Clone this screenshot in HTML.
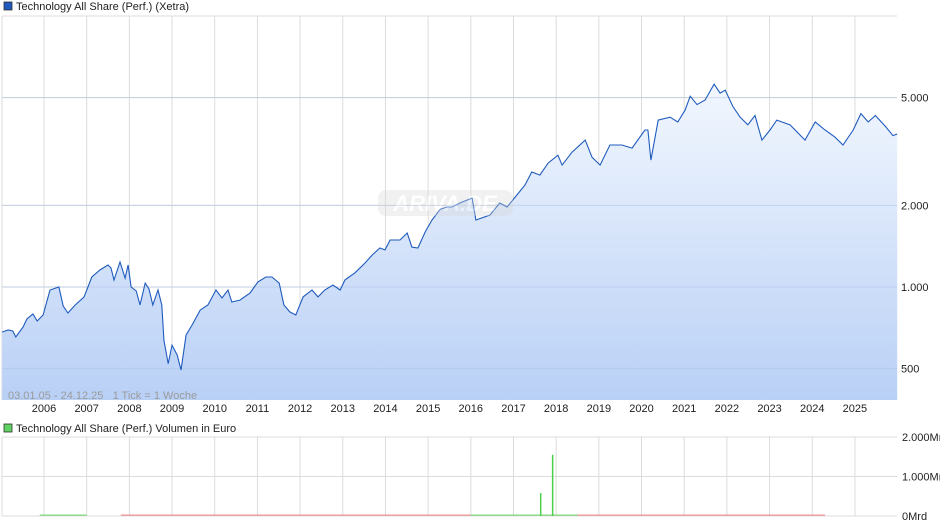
<!DOCTYPE html>
<html><head><meta charset="utf-8"><style>
body{margin:0;background:#fff;}
svg{display:block;font-family:"Liberation Sans",sans-serif;}
</style></head><body>
<svg id="c" width="940" height="526" viewBox="0 0 940 526">
<defs>
<linearGradient id="fg" x1="0" y1="0" x2="0" y2="1">
<stop offset="0" stop-color="#f2f7fe"/><stop offset="1" stop-color="#b9d0f6"/>
</linearGradient>
</defs>
<g id="grid"></g>
<g id="area"></g>
<g id="vol"></g>
<g id="axes"></g>
<g opacity="0.35">
<rect x="378" y="190" width="135" height="26" rx="8" fill="#d8d8d8"/>
<text x="445" y="211" font-size="22" font-style="italic" font-weight="bold" fill="#fff" text-anchor="middle">ARIVA.DE</text>
</g>
<rect x="4" y="2" width="8" height="8" fill="#1f5bbd" stroke="#333" stroke-width="0.8"/>
<text x="16" y="10" font-size="11" fill="#222">Technology All Share (Perf.) (Xetra)</text>
<rect x="4" y="424" width="8" height="8" fill="#5fd35f" stroke="#333" stroke-width="0.8"/>
<text x="16" y="432" font-size="11" fill="#222">Technology All Share (Perf.) Volumen in Euro</text>
<text x="8" y="399" font-size="11" fill="#9a9a9a" style="white-space:pre">03.01.05 - 24.12.25   1 Tick = 1 Woche</text>
</svg>
<script>
const dates=[2005.02,2005.16,2005.27,2005.34,2005.51,2005.60,2005.74,2005.84,2005.98,2006.14,2006.35,2006.45,2006.56,2006.73,2006.94,2007.12,2007.31,2007.50,2007.57,2007.64,2007.78,2007.90,2007.97,2008.04,2008.16,2008.25,2008.37,2008.46,2008.55,2008.67,2008.76,2008.81,2008.91,2009.00,2009.12,2009.21,2009.33,2009.47,2009.66,2009.84,2010.03,2010.17,2010.31,2010.40,2010.59,2010.83,2011.01,2011.20,2011.34,2011.51,2011.62,2011.76,2011.90,2012.07,2012.28,2012.42,2012.58,2012.77,2012.94,2013.05,2013.29,2013.52,2013.69,2013.87,2013.99,2014.11,2014.34,2014.51,2014.62,2014.76,2014.93,2015.09,2015.28,2015.44,2015.56,2015.79,2016.03,2016.12,2016.45,2016.68,2016.85,2017.04,2017.27,2017.43,2017.62,2017.81,2018.04,2018.14,2018.37,2018.68,2018.84,2019.03,2019.26,2019.54,2019.78,2020.08,2020.15,2020.22,2020.39,2020.67,2020.85,2021.02,2021.14,2021.30,2021.49,2021.70,2021.84,2021.96,2022.14,2022.31,2022.49,2022.66,2022.82,2023.01,2023.17,2023.48,2023.83,2024.07,2024.30,2024.53,2024.72,2024.96,2025.14,2025.31,2025.48,2025.72,2025.89,2025.99];
const prices=[682,694,688,654,712,762,795,749,788,975,1000,851,802,858,919,1089,1155,1206,1175,1061,1237,1079,1206,1000,967,858,1034,983,858,975,858,637,521,610,561,494,665,724,822,858,975,911,975,880,895,950,1043,1089,1089,1034,858,809,788,919,975,919,975,1017,975,1061,1129,1226,1312,1393,1370,1491,1491,1582,1404,1393,1594,1767,1933,1974,1974,2057,2129,1767,1843,2041,1974,2147,2379,2656,2588,2866,3064,2818,3144,3485,3013,2818,3342,3342,3255,3797,3797,2940,4130,4234,4062,4495,5060,4709,4900,5600,5194,5322,4636,4234,3966,4294,3485,3797,4130,3966,3485,4062,3797,3575,3342,3797,4362,4062,4294,3906,3620,3668];
const yTicks=[500,1000,2000,5000];
const yTickLabels=["500","1.000","2.000","5.000"];
const years=[2006,2007,2008,2009,2010,2011,2012,2013,2014,2015,2016,2017,2018,2019,2020,2021,2022,2023,2024,2025];
const volDates=[2017.62,2017.90];
const volValues=[0.58,1.55];
const volTicks=[0,1,2];
const volTickLabels=["0Mrd","1.000Mrd","2.000Mrd"];
const baseDates=[[2005.9,2007.0,"#7ad87a"],[2007.8,2016.0,"#f09090"],[2016.0,2018.5,"#7ad87a"],[2018.5,2024.3,"#f09090"]];

const NS="http://www.w3.org/2000/svg";
const X0=2,X1=897,TOP=16,BOT=400,VT=437,VB=516;
const xs=t=>44+(t-2006)*42.68;
const ys=v=>287-271*Math.log10(v/1000);
const yv=v=>VB-(VB-VT)*v/2;
function mk(tag,attrs,parent){const e=document.createElementNS(NS,tag);for(const k in attrs)e.setAttribute(k,attrs[k]);parent.appendChild(e);return e;}
const grid=document.getElementById('grid'),axes=document.getElementById('axes'),area=document.getElementById('area'),vol=document.getElementById('vol');
let l=mk('line',{x1:X0,x2:X1,y1:TOP,y2:TOP,stroke:'#dcdcdc'},grid);

l=mk('line',{x1:X0,x2:X0,y1:TOP,y2:BOT,stroke:'#dcdcdc'},grid);

l=mk('line',{x1:X0,x2:X0,y1:VT,y2:VB,stroke:'#dcdcdc'},grid);

years.forEach(y=>{
 const x=xs(y);
 let g=mk('line',{x1:x,x2:x,y1:TOP,y2:BOT,stroke:'#dcdcdc'},grid);
 
 g=mk('line',{x1:x,x2:x,y1:VT,y2:VB,stroke:'#dcdcdc'},grid);
 
 const t=mk('text',{x:x,y:412,'font-size':11,fill:'#222','text-anchor':'middle'},axes);
 t.textContent=y;
 
});
yTicks.forEach((v,i)=>{
 const y=ys(v);
 const g=mk('line',{x1:X0,x2:X1,y1:y,y2:y,stroke:'#dcdcdc'},grid);
 
 const t=mk('text',{x:901,y:y+4,'font-size':11,fill:'#222'},axes);
 t.textContent=yTickLabels[i];
 
});
volTicks.forEach((v,i)=>{
 const y=yv(v);
 const g=mk('line',{x1:X0,x2:X1,y1:y,y2:y,stroke:'#dcdcdc'},grid);
 
 const t=mk('text',{x:902,y:y+4,'font-size':11,fill:'#222'},axes);
 t.textContent=volTickLabels[i];
 
});
let d='';dates.forEach((t,i)=>{d+=(i?'L':'M')+xs(t).toFixed(1)+','+ys(prices[i]).toFixed(1);});
const fill=mk('path',{d:d+'L'+xs(dates[dates.length-1]).toFixed(1)+','+BOT+'L'+xs(dates[0]).toFixed(1)+','+BOT+'Z',fill:'url(#fg)'},area);

yTicks.forEach(v=>{const g=mk('line',{x1:X0,x2:X1,y1:ys(v),y2:ys(v),stroke:'#a9bfe3','stroke-width':1,opacity:0.5},area);
 });
const line=mk('path',{d:d,fill:'none',stroke:'#1f5bbd','stroke-width':1.1},area);

baseDates.forEach(b=>{const r=mk('rect',{x:xs(b[0]),y:VB-1.5,width:xs(b[1])-xs(b[0]),height:1.2,fill:b[2]},vol);
 });
volDates.forEach((t,i)=>{const r=mk('rect',{x:xs(t),y:yv(volValues[i]),width:1.5,height:VB-yv(volValues[i]),fill:'#4ccf4c'},vol);
 });
</script>
</body></html>
